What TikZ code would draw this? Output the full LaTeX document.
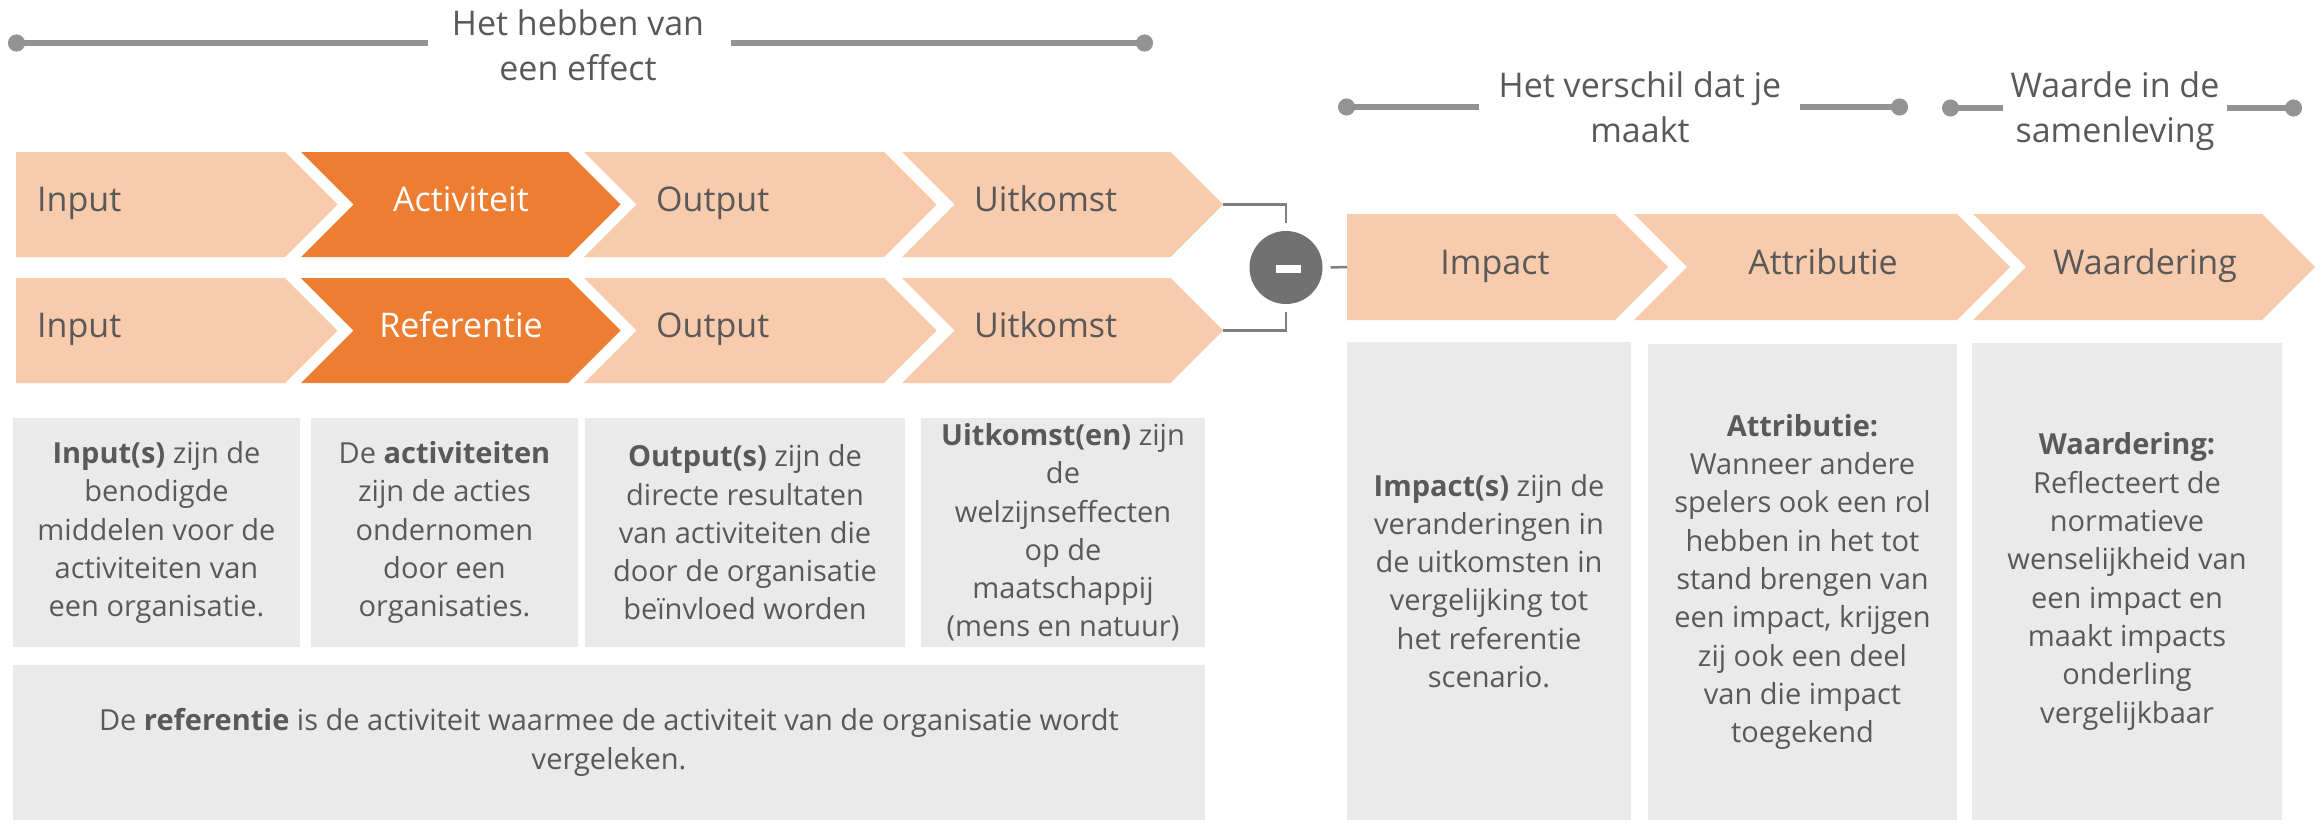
\documentclass[tikz,border=0pt]{standalone}
\usepackage{fontspec}
\setmainfont{Open Sans}
\usetikzlibrary{arrows.meta}
\definecolor{peach}{HTML}{F8CBAD}
\definecolor{orangeC}{HTML}{ED7D31}
\definecolor{txt}{HTML}{595959}
\definecolor{boxg}{HTML}{EAEAEA}
\definecolor{lineg}{HTML}{939393}
\definecolor{brk}{HTML}{7F7F7F}
\definecolor{circ}{HTML}{717171}
\begin{document}
\begin{tikzpicture}[x=1pt,y=-1pt,
  chev/.style={fill=peach},
  chevact/.style={fill=orangeC},
  clabel/.style={font=\fontsize{34}{41}\selectfont, text=txt, inner sep=0pt},
  titletext/.style={font=\fontsize{34}{45}\selectfont, text=txt, align=center, inner sep=0pt},
  gbox/.style={fill=boxg, inner sep=0pt, font=\fontsize{29}{38.3}\selectfont, text=txt, align=center},
  gline/.style={draw=lineg, line width=5.5pt},
  dotstart/.style={{Circle[length=17pt,width=17pt]}-},
  dotend/.style={-{Circle[length=17pt,width=17pt]}},
  brkline/.style={draw=brk, line width=2.5pt}
]
\useasboundingbox (0,0) rectangle (2323,822);

% ---------- titles ----------
\node[titletext] (t1) at (578,45) {Het hebben van\\een effect};
\coordinate (t1a) at (8,43);   \coordinate (t1b) at (428,43);
\coordinate (t1c) at (731,43); \coordinate (t1d) at (1153,43);
\draw[gline,dotstart] (t1a) -- (t1b);
\draw[gline,dotend] (t1c) -- (t1d);

\node[titletext] (t2) at (1640,107.6) {Het verschil dat je\\maakt};
\coordinate (t2a) at (1338,107);  \coordinate (t2b) at (1479,107);
\coordinate (t2c) at (1800,107);  \coordinate (t2d) at (1908,107);
\draw[gline,dotstart] (t2a) -- (t2b);
\draw[gline,dotend] (t2c) -- (t2d);

\node[titletext] (t3) at (2115,111.6) {Waarde in de\\samenleving};
\coordinate (t3a) at (1942,108);  \coordinate (t3b) at (2003,108);
\coordinate (t3c) at (2227,108);  \coordinate (t3d) at (2302,108);
\draw[gline,dotstart] (t3a) -- (t3b);
\draw[gline,dotend] (t3c) -- (t3d);

% ---------- chevron row 1 ----------
\fill[chev] (16,152) -- (285,152) -- (337.5,204.5) -- (285,257) -- (16,257) -- cycle;
\fill[chevact] (301,152) -- (568,152) -- (620.5,204.5) -- (568,257) -- (301,257) -- (353.5,204.5) -- cycle;
\fill[chev] (584,152) -- (884,152) -- (936.5,204.5) -- (884,257) -- (584,257) -- (636.5,204.5) -- cycle;
\fill[chev] (902,152) -- (1170.5,152) -- (1223,204.5) -- (1170.5,257) -- (902,257) -- (954.5,204.5) -- cycle;
\coordinate (tip1) at (1223,204.5);

% ---------- chevron row 2 ----------
\fill[chev] (16,278) -- (285,278) -- (337.5,330.5) -- (285,383) -- (16,383) -- cycle;
\fill[chevact] (301,278) -- (568,278) -- (620.5,330.5) -- (568,383) -- (301,383) -- (353.5,330.5) -- cycle;
\fill[chev] (584,278) -- (884,278) -- (936.5,330.5) -- (884,383) -- (584,383) -- (636.5,330.5) -- cycle;
\fill[chev] (902,278) -- (1170.5,278) -- (1223,330.5) -- (1170.5,383) -- (902,383) -- (954.5,330.5) -- cycle;
\coordinate (tip2) at (1223,330.5);

\node[clabel, anchor=base west] (inp1) at (37,211) {Input};
\node[clabel, anchor=base, text=white] (act) at (461,211) {Activiteit};
\node[clabel, anchor=base west] (out1) at (656,211) {Output};
\node[clabel, anchor=base west] (uit1) at (974,211) {Uitkomst};

\node[clabel, anchor=base west] (inp2) at (37,337) {Input};
\node[clabel, anchor=base, text=white] (ref) at (461,337) {Referentie};
\node[clabel, anchor=base west] (out2) at (656,337) {Output};
\node[clabel, anchor=base west] (uit2) at (974,337) {Uitkomst};

% ---------- right chevrons ----------
\fill[chev] (1347,214) -- (1615,214) -- (1668,267) -- (1615,320) -- (1347,320) -- cycle;
\fill[chev] (1634,214) -- (1957,214) -- (2010,267) -- (1957,320) -- (1634,320) -- (1687,267) -- cycle;
\fill[chev] (1973,214) -- (2262,214) -- (2315,267) -- (2262,320) -- (1973,320) -- (2026,267) -- cycle;
\coordinate (impW) at (1347,267);

\node[clabel, anchor=base] (imp) at (1495,274) {Impact};
\node[clabel, anchor=base] (att) at (1823,274) {Attributie};
\node[clabel, anchor=base] (waa) at (2145,274) {Waardering};

% ---------- minus circle and connectors ----------
\node[circle, fill=circ, minimum size=73pt, inner sep=0pt] (minus) at (1286,267.5) {};
\node[fill=white, minimum width=25pt, minimum height=8pt, inner sep=0pt] (bar) at (1288.5,269) {};
\draw[brkline] (tip1) -| ([yshift=8pt]minus.north);
\draw[brkline] (tip2) -| ([yshift=-8pt]minus.south);
\draw[brkline] ([xshift=8pt]minus.east) -- (impW);

% ---------- description boxes left ----------
\node[gbox, minimum width=287pt, minimum height=229pt] (bx1) at (156.5,532.5)
  {\textbf{Input(s)} zijn de\\benodigde\\middelen voor de\\activiteiten van\\een organisatie.};
\node[gbox, minimum width=267pt, minimum height=229pt] (bx2) at (444.5,532.5)
  {De \textbf{activiteiten}\\zijn de acties\\ondernomen\\door een\\organisaties.};
\node[gbox, minimum width=320pt, minimum height=229pt] (bx3) at (745,532.5)
  {\textbf{Output(s)} zijn de\\directe resultaten\\van activiteiten die\\door de organisatie\\beïnvloed worden};
\node[gbox, minimum width=284pt, minimum height=229pt] (bx4) at (1063,532.5)
  {\textbf{Uitkomst(en)} zijn\\de\\welzijnseffecten\\op de\\maatschappij\\(mens en natuur)};
\node[gbox, minimum width=1192pt, minimum height=155pt] (bx5) at (609,742.5)
  {De \textbf{referentie} is de activiteit waarmee de activiteit van de organisatie wordt\\vergeleken.};

% ---------- description boxes right ----------
\node[gbox, minimum width=284pt, minimum height=478pt] (bx6) at (1489,581)
  {\textbf{Impact(s)} zijn de\\veranderingen in\\de uitkomsten in\\vergelijking tot\\het referentie\\scenario.};
\node[gbox, minimum width=309pt, minimum height=476pt] (bx7) at (1802.5,582)
  {\textbf{Attributie:}\\Wanneer andere\\spelers ook een rol\\hebben in het tot\\stand brengen van\\een impact, krijgen\\zij ook een deel\\van die impact\\toegekend};
\node[gbox, minimum width=310pt, minimum height=477pt] (bx8) at (2127,581.5)
  {\textbf{Waardering:}\\Reflecteert de\\normatieve\\wenselijkheid van\\een impact en\\maakt impacts\\onderling\\vergelijkbaar};
\end{tikzpicture}
\end{document}
